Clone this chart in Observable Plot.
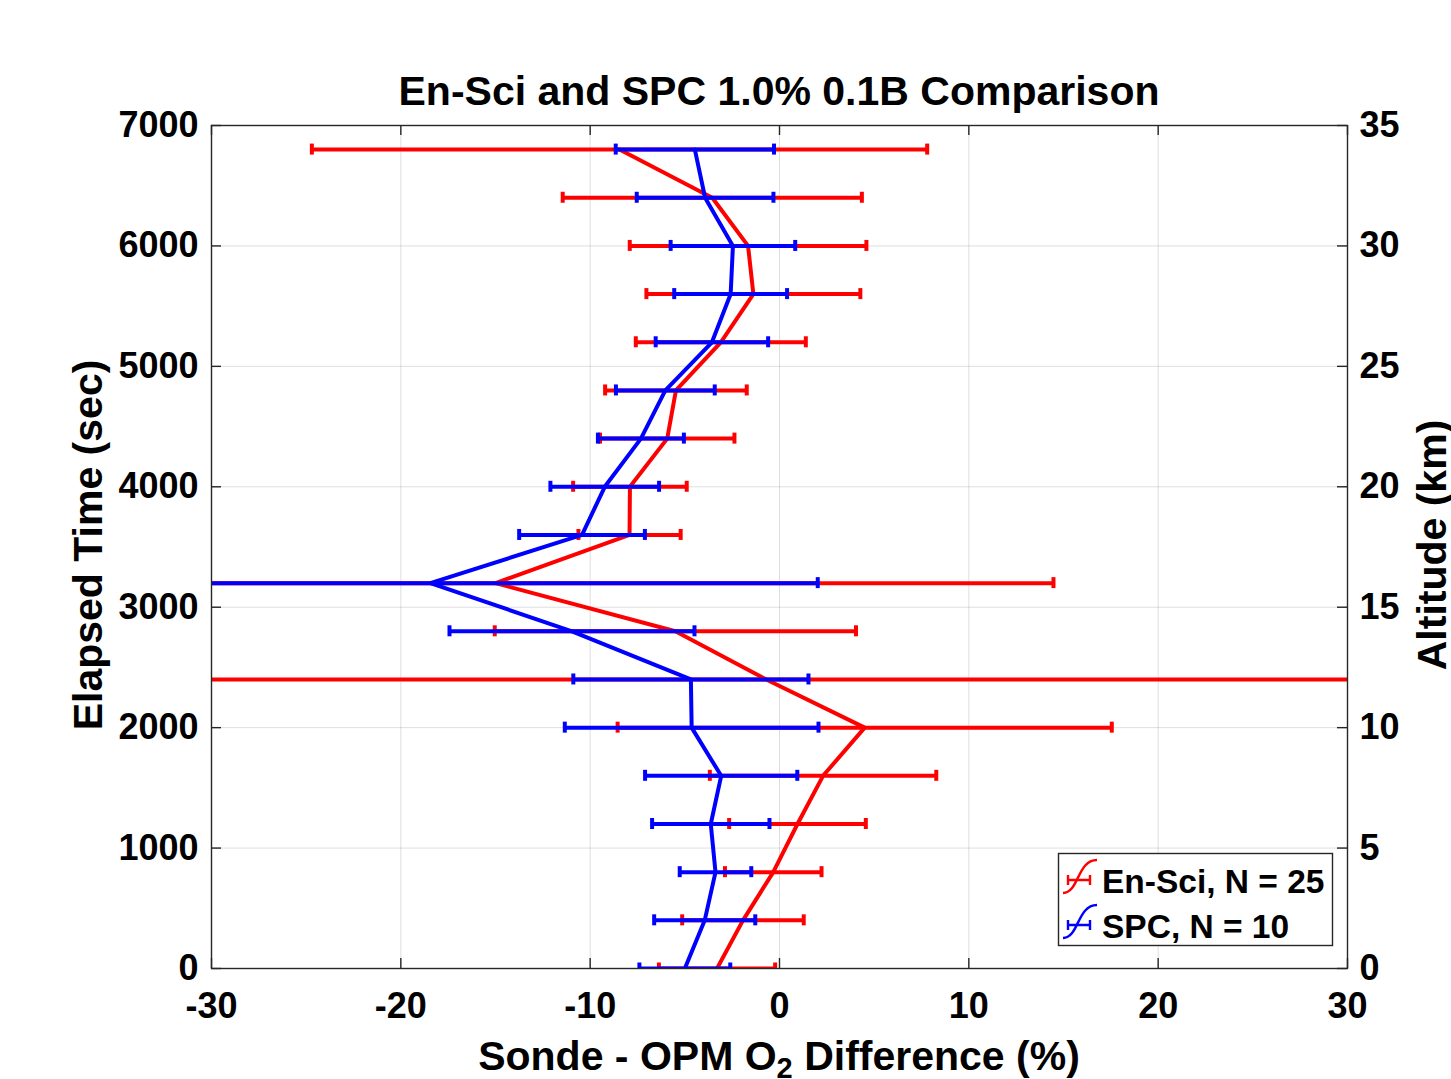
<!DOCTYPE html>
<html><head><meta charset="utf-8">
<script src="https://cdn.jsdelivr.net/npm/d3@7"></script>
<script src="https://cdn.jsdelivr.net/npm/@observablehq/plot@0.6"></script>
<style>
html,body{margin:0;padding:0;background:#fff;overflow:hidden}
#chart svg{display:block}
</style>
</head><body><div id="chart"></div>
<script>
// ---- data ----
const elapsedTime = [0,400,800,1200,1600,2000,2400,2800,3200,3600,4000,4400,4800,5200,5600,6000,6400,6800];
const enSciMean = [-3.3,-1.93,-0.33,0.95,2.3,4.5,-0.7,-5.5,-15.0,-7.92,-7.9,-5.93,-5.47,-3.1,-1.38,-1.66,-3.55,-8.45];
const enSciSd   = [3.07,3.21,2.55,3.61,5.98,13.05,33.0,9.54,29.47,2.7,3.0,3.55,3.74,4.49,5.65,6.25,7.9,16.25];
const spcMean   = [-5.0,-3.95,-3.38,-3.63,-3.08,-4.64,-4.68,-10.96,-18.44,-10.43,-9.23,-7.32,-6.03,-3.57,-2.58,-2.46,-3.93,-4.47];
const spcSd     = [2.4,2.67,1.89,3.1,4.02,6.7,6.21,6.47,20.46,3.32,2.87,2.27,2.61,2.97,2.98,3.29,3.61,4.18];
const seriesNames = ["En-Sci","SPC"];
const seriesN = [25,10];
const seriesColors = ["#ff0000","#0000ff"];
const xTicks = [-30,-20,-10,0,10,20,30];
const yTicks = [0,1000,2000,3000,4000,5000,6000,7000];
const altTicks = [0,5,10,15,20,25,30,35];
const secPerKm = 200;
const xDomain = [-30,30];
const yDomain = [0,7000];

const means = [enSciMean, spcMean];
const sds = [enSciSd, spcSd];
const rows = means.map((m,k) => elapsedTime.map((t,i) => ({t, mean:m[i], lo:m[i]-sds[k][i], hi:m[i]+sds[k][i]})));

const W = 1451, H = 1079;
const axisColor = "#262626";
const lw = 4;

const seriesMarks = rows.flatMap((r,k) => [
  Plot.ruleY(r, {y:"t", x1:"lo", x2:"hi", stroke:seriesColors[k], strokeWidth:lw, clip:true}),
  Plot.ruleX(r, {x:"lo", y1:"t", y2:"t", insetTop:-5.5, insetBottom:-5.5, stroke:seriesColors[k], strokeWidth:lw, clip:true}),
  Plot.ruleX(r, {x:"hi", y1:"t", y2:"t", insetTop:-5.5, insetBottom:-5.5, stroke:seriesColors[k], strokeWidth:lw, clip:true}),
  Plot.line(r, {x:"mean", y:"t", stroke:seriesColors[k], strokeWidth:lw, clip:true})
]);

const chart = Plot.plot({
  width: W, height: H,
  marginLeft: 211, marginRight: 104, marginTop: 125, marginBottom: 111,
  x: {domain: xDomain, axis: null},
  y: {domain: yDomain, axis: null},
  style: {fontFamily: "'Liberation Sans', Arial, sans-serif", fontSize: "36px", fontWeight: "bold", color: "#000", background: "#fff"},
  marks: [
    Plot.gridX({ticks: xTicks, stroke: "#000", strokeOpacity: 0.13, strokeWidth: 1}),
    Plot.gridY({ticks: yTicks, stroke: "#000", strokeOpacity: 0.13, strokeWidth: 1}),
    ...seriesMarks,
    Plot.frame({stroke: axisColor, strokeWidth: 1.4}),
    // inward ticks
    Plot.ruleX(xTicks, {x: d => d, y1: () => yDomain[0], y2: () => yDomain[0], insetTop: -10, insetBottom: 0, stroke: axisColor, strokeWidth: 1.4}),
    Plot.ruleX(xTicks, {x: d => d, y1: () => yDomain[1], y2: () => yDomain[1], insetTop: 0, insetBottom: -10, stroke: axisColor, strokeWidth: 1.4}),
    Plot.ruleY(yTicks, {y: d => d, x1: () => xDomain[0], x2: () => xDomain[0], insetLeft: 0, insetRight: -10, stroke: axisColor, strokeWidth: 1.4}),
    Plot.ruleY(altTicks.map(a => a*secPerKm), {y: d => d, x1: () => xDomain[1], x2: () => xDomain[1], insetLeft: -10, insetRight: 0, stroke: axisColor, strokeWidth: 1.4}),
    // tick labels
    Plot.axisX({anchor: "bottom", ticks: xTicks, tickSize: 0, tickPadding: 24, label: null, tickFormat: d => String(d)}),
    Plot.axisY({anchor: "left", ticks: yTicks, tickSize: 0, tickPadding: 13, label: null, tickFormat: d => String(d)}),
    Plot.axisY({anchor: "right", ticks: altTicks.map(a => a*secPerKm), tickSize: 0, tickPadding: 12, label: null, tickFormat: d => String(d/secPerKm)})
  ]
});

document.getElementById("chart").appendChild(chart);
const svg = d3.select(chart);
const ff = "'Liberation Sans', Arial, sans-serif";

// title
svg.append("text").attr("x", 779).attr("y", 105).attr("text-anchor","middle")
  .attr("font-family", ff).attr("font-weight","bold").attr("font-size", 41).attr("fill","#000")
  .text("En-Sci and SPC 1.0% 0.1B Comparison");

// y label (left)
svg.append("text").attr("transform","translate(102,545) rotate(-90)").attr("text-anchor","middle")
  .attr("font-family", ff).attr("font-weight","bold").attr("font-size", 41).attr("fill","#000")
  .text("Elapsed Time (sec)");

// y label (right)
svg.append("text").attr("transform","translate(1446,545) rotate(-90)").attr("text-anchor","middle")
  .attr("font-family", ff).attr("font-weight","bold").attr("font-size", 41).attr("fill","#000")
  .text("Altitude (km)");

// x label
const xl = svg.append("text").attr("x", 779).attr("y", 1070).attr("text-anchor","middle")
  .attr("font-family", ff).attr("font-weight","bold").attr("font-size", 41).attr("fill","#000");
xl.append("tspan").text("Sonde - OPM O");
xl.append("tspan").attr("dy", 8).attr("font-size", 29).text("2");
xl.append("tspan").attr("dy", -8).text(" Difference (%)");

// legend
const lg = svg.append("g");
lg.append("rect").attr("x",1058.5).attr("y",853.5).attr("width",274).attr("height",92)
  .attr("fill","#fff").attr("stroke",axisColor).attr("stroke-width",1.4);
seriesNames.forEach((name,k) => {
  const oy = k*45;
  const c = seriesColors[k];
  lg.append("path").attr("d", `M1063,${893+oy} C1079,${893+oy} 1077,${860+oy} 1097,${860+oy}`)
    .attr("fill","none").attr("stroke",c).attr("stroke-width",2.4);
  lg.append("path").attr("d", `M1068,${880+oy} H1090 M1068,${875+oy} V${885+oy} M1090,${875+oy} V${885+oy}`)
    .attr("fill","none").attr("stroke",c).attr("stroke-width",2.4);
  lg.append("text").attr("x",1102).attr("y",893+oy).attr("text-anchor","start")
    .attr("font-family", ff).attr("font-weight","bold").attr("font-size", 33.5).attr("fill","#000")
    .text(`${name}, N = ${seriesN[k]}`);
});
</script>
</body></html>
